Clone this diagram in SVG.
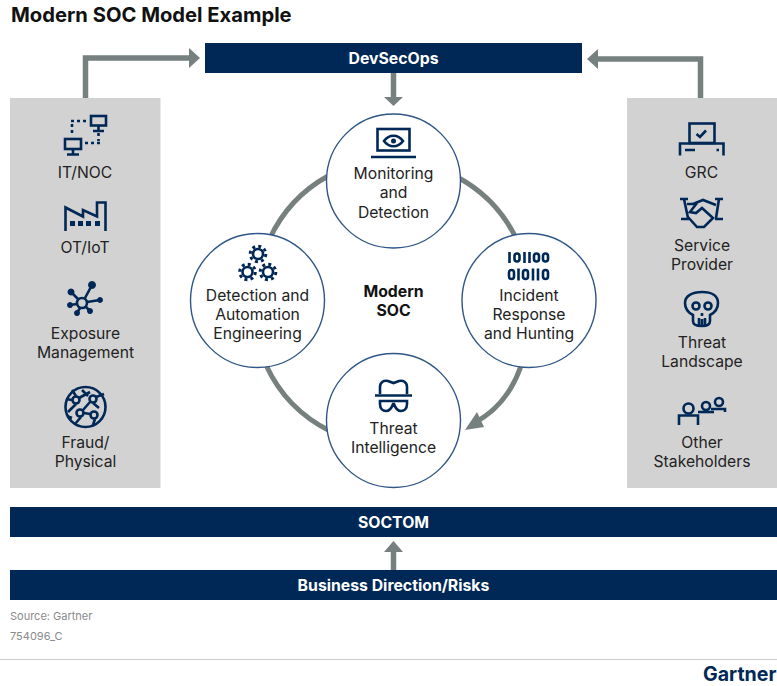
<svg xmlns="http://www.w3.org/2000/svg" width="777" height="686" viewBox="0 0 777 686">
<style>
text{font-family:Inter,"Liberation Sans",sans-serif;font-size:15.7px;fill:#222;text-anchor:middle}
.b{font-weight:700}
.w{fill:#fff;font-weight:700;font-size:15.8px}
.panel{fill:#d2d2d2}
.bar{fill:#002856}
.c{fill:#fff;stroke:#2f5686;stroke-width:1.4}
.i{fill:none;stroke:#002856;stroke-width:2.6}
.f{fill:#002856}
.l{fill:none;stroke:#76807e;stroke-width:5.5}
.a{stroke-width:5}
.h{fill:#76807e}
.s{font-size:11px;fill:#8a8a8a;text-anchor:start}
</style>
<rect width="777" height="686" fill="#fff"/>
<text class="b" x="11" y="22" style="font-size:20.2px;fill:#111;text-anchor:start">Modern SOC Model Example</text>
<g id="connectors">
<path class="l" d="M85.500 98V58H190"/><path class="h" d="M189 48L200 58L189 68Z"/>
<path class="l" d="M700.500 98V59H597"/><path class="h" d="M598 49L587 59L598 69Z"/>
<path class="l" d="M393.500 73V98"/><path class="h" d="M384 97H403L393.500 106Z"/>
<path class="l" d="M393.500 570V552"/><path class="h" d="M384 552H403L393.500 541Z"/>
<path class="l a" d="M328 176A138 138 0 0 0 270 238"/>
<path class="l a" d="M459 178A138 138 0 0 1 515 236"/>
<path class="l a" d="M266 365A138 138 0 0 0 330 431"/>
<path class="l a" d="M521 366C512 392 497 411 474 423"/><path class="h" d="M465 430L477 412L484 427Z"/>
</g>
<g id="left-panel"><rect class="panel" x="10" y="98" width="150.500" height="390"/></g>
<g id="right-panel"><rect class="panel" x="627" y="98" width="150" height="390"/></g>
<g id="it-noc">
<rect class="i" x="91" y="116" width="15" height="9.500"/><path class="i" d="M98.500 126V130M93 131H104"/>
<rect class="i" x="65" y="139" width="16" height="10"/><path class="i" d="M73 150V154M67 154.500H79"/>
<path class="i" stroke-dasharray="3 3" d="M71 121H88M72 124V136M85 143H100M98.500 133V141"/>
<text x="85" y="178">IT/NOC</text></g>
<g id="ot-iot">
<path class="i" d="M65.500 231V207.500L83 216.500V210L97 216.500V202.500H105.500V231"/>
<path class="f" d="M70 221h5v5h-5zM78 221h5v5h-5zM86 221h5v5h-5zM95 221h5v5h-5z"/>
<text x="85" y="253">OT/IoT</text></g>
<g id="exposure">
<circle class="i" cx="82" cy="303" r="5"/>
<path class="i" d="M85 298L92 285M78 299L71 292M87 302L100 300M77 304L70 305M80 308L77 313M86 307L90 311"/>
<path class="f" d="M92 281a4 4 0 1 0 .01 0zM71 288.500a3.500 3.500 0 1 0 .01 0zM100 297a3 3 0 1 0 .01 0zM70 302a3 3 0 1 0 .01 0zM77 310a3 3 0 1 0 .01 0zM90 308a3 3 0 1 0 .01 0z"/>
<text x="85.500" y="339">Exposure</text><text x="85.500" y="358">Management</text></g>
<g id="fraud">
<circle class="i" cx="85.500" cy="407" r="20" stroke-width="3"/>
<circle class="i" cx="76" cy="400" r="3.500"/><circle class="i" cx="93" cy="399" r="3.500"/><circle class="i" cx="80" cy="413" r="3.500"/><circle class="i" cx="94" cy="415" r="3.500"/>
<path class="i" stroke-width="2" d="M72 390L76 396M76 404L68 412M79 398L90 392M93 403L99 408M84 413L90 414M81 417L75 424M95 419L93 425M90 402L83 410M72 400L66 399M96 397L104 394M82 390L88 396M72 418L67 416"/>
<text x="85.500" y="448">Fraud/</text><text x="85.500" y="467">Physical</text></g>
<g id="grc">
<rect class="i" x="689.500" y="123.500" width="25" height="19.500"/>
<path class="i" d="M696.500 134L700 137L706 130.500"/>
<path class="i" d="M680 155.500V143.500H723.500V155.500"/>
<path class="i" d="M685 150H695M716.500 150H719"/>
<text x="701.500" y="178">GRC</text></g>
<g id="service-provider">
<path class="i" d="M680 199H688M684 199L688 218M681 219H689M715 199H723M719 199L716 218M715 219H723"/>
<path class="i" d="M687 204H693L703 200L716 205M697 203L690 212L696 213L702 208L713 218L704 227H697L688 217"/>
<text x="702" y="251">Service</text><text x="702" y="270">Provider</text></g>
<g id="threat-landscape">
<path class="i" d="M693 321V315C687 312 685 307 685 303C685 296 692 292 702 292C712 292 718 296 718 303C718 307 716 312 710 315V321C710 325 707 326 702 326C696 326 693 325 693 321Z"/>
<circle class="i" cx="696" cy="306" r="3.500"/><circle class="i" cx="708" cy="306" r="3.500"/>
<path class="i" stroke-width="2" d="M699 318V325M702 313V316M702 319V325M705 318V325"/>
<text x="702" y="348">Threat</text><text x="702" y="367">Landscape</text></g>
<g id="other-stakeholders">
<circle class="i" cx="688.500" cy="408.500" r="5"/><path class="i" d="M679 425V415.500H698V425"/>
<circle class="i" cx="706" cy="406" r="4"/><path class="i" d="M698 412H714"/>
<circle class="i" cx="719" cy="402" r="4"/><path class="i" d="M711 409H725V412"/>
<text x="702" y="448">Other</text><text x="702" y="467">Stakeholders</text></g>
<g id="devsecops"><rect class="bar" x="205" y="43" width="377" height="30"/><text class="w" x="393.500" y="64">DevSecOps</text></g>
<g id="monitoring">
<circle class="c" cx="393.500" cy="181" r="67"/>
<rect class="i" x="377.500" y="129" width="32" height="21.500"/>
<path class="i" d="M371 157H416"/>
<path class="i" d="M384 141C389 134 398 134 403 141C398 148 389 148 384 141Z" stroke-width="2"/><circle class="f" cx="393.500" cy="141" r="2.500"/>
<text x="393.500" y="179">Monitoring</text><text x="393.500" y="198">and</text><text x="393.500" y="218">Detection</text></g>
<g id="detection">
<circle class="c" cx="257.500" cy="300.500" r="67"/>
<g class="i" stroke-width="3">
<circle cx="258" cy="254" r="5"/><circle cx="247.500" cy="272" r="5"/><circle cx="268" cy="272" r="5"/>
<circle cx="258" cy="254" r="7.800" stroke-width="3" stroke-dasharray="3 3.130"/><circle cx="247.500" cy="272" r="7.800" stroke-width="3" stroke-dasharray="3 3.130"/><circle cx="268" cy="272" r="7.800" stroke-width="3" stroke-dasharray="3 3.130"/>
</g>
<text x="257.500" y="301">Detection and</text><text x="257.500" y="320">Automation</text><text x="257.500" y="339">Engineering</text></g>
<g id="incident">
<circle class="c" cx="529" cy="300.500" r="67"/>
<g class="i" stroke-width="3.200">
<path d="M509.500 252V263M524.500 252V263M529.500 252V263"/><rect x="514.500" y="253.500" width="5" height="8" rx="2.500"/><rect x="534" y="253.500" width="5" height="8" rx="2.500"/><rect x="543" y="253.500" width="5" height="8" rx="2.500"/>
<rect x="509" y="270" width="5" height="9" rx="2.500"/><path d="M518.500 268.500V280.500"/><rect x="523" y="270" width="5" height="9" rx="2.500"/><path d="M533 268.500V280.500M538 268.500V280.500"/><rect x="543" y="270" width="5" height="9" rx="2.500"/>
</g>
<text x="529" y="301">Incident</text><text x="529" y="320">Response</text><text x="529" y="339">and Hunting</text></g>
<g id="threat-intel">
<circle class="c" cx="393.500" cy="420.500" r="67"/>
<path class="i" d="M380 394V387C380 382 384 380 388 381L393.500 383L399 381C403 380 407 382 407 387V394"/>
<path class="i" d="M375 395.500H412"/>
<path class="i" d="M380 401H407V404C407 409 404 411 401 411C397 411 395 407 394 404H393C392 407 390 411 386 411C383 411 380 409 380 404Z"/>
<text x="393.500" y="434">Threat</text><text x="393.500" y="453">Intelligence</text></g>
<g id="modern-soc"><text class="b" x="393.500" y="297" style="font-size:15.8px;fill:#111">Modern</text><text class="b" x="393.500" y="316" style="font-size:15.8px;fill:#111">SOC</text></g>
<g id="soctom"><rect class="bar" x="10" y="507" width="767" height="30"/><text class="w" x="393.500" y="528">SOCTOM</text></g>
<g id="business"><rect class="bar" x="10" y="570" width="767" height="30"/><text class="w" x="393.500" y="591">Business Direction/Risks</text></g>
<text class="s" x="10" y="620">Source: Gartner</text>
<text class="s" x="10" y="640">754096_C</text>
<path d="M0 659.500H777" stroke="#ccc" stroke-width="1"/>
<text x="703" y="681" style="font-size:19.6px;font-weight:700;fill:#002856;text-anchor:start">Gartner</text>
</svg>
